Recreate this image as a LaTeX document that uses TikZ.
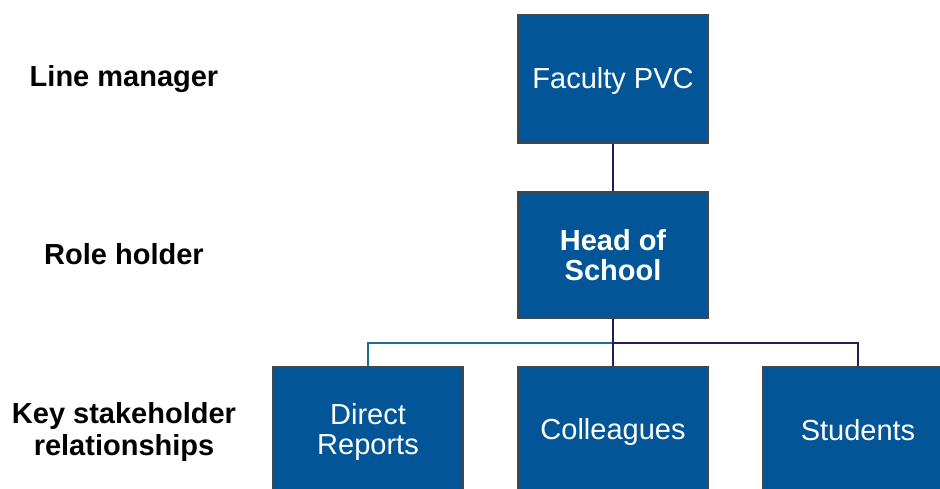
\documentclass[tikz,border=0pt]{standalone}
\usepackage{fontspec}
\setmainfont{Liberation Sans}
\definecolor{boxblue}{RGB}{2,86,152}
\definecolor{boxedge}{RGB}{70,70,70}
\definecolor{navyline}{RGB}{32,30,92}
\definecolor{tealline}{RGB}{28,108,140}
% a strut that centres the capitals of each line on the node centre
\newcommand{\capstrut}{\rule[-4.2pt]{0pt}{29.2pt}}
\tikzset{
  rolebox/.style={rectangle, draw=boxedge, line width=2.5pt, fill=boxblue,
    minimum width=190pt, minimum height=126pt, inner sep=0pt,
    text=white, align=center, font=\fontsize{29}{30}\selectfont},
  levellabel/.style={align=center, text=black, inner sep=0pt,
    font=\fontsize{29}{29}\selectfont\bfseries},
  navylink/.style={draw=navyline, line width=2.5pt},
  teallink/.style={draw=tealline, line width=2.5pt}
}
\begin{document}
\begin{tikzpicture}[x=1pt,y=-1pt]
  \useasboundingbox (0,0) rectangle (940,488);
  \clip (0,0) rectangle (940,488);

  % level labels on the left
  \node[levellabel] (lm) at (124,77) {\capstrut Line manager};
  \node[levellabel] (rh) at (124,254) {\capstrut Role holder};
  \node[levellabel] (ks) at (124,430) {\capstrut Key stakeholder\\\capstrut relationships};

  % boxes
  \node[rolebox, minimum height=128pt] (fac) at (613,79) {\capstrut Faculty PVC};
  \node[rolebox, font=\fontsize{29}{30}\selectfont\bfseries] (hos) at (613,255)
    {\capstrut Head of\\\capstrut School};
  \node[rolebox] (dr) at (368,430) {\capstrut Direct\\\capstrut Reports};
  \node[rolebox] (col) at (613,430) {\capstrut Colleagues};
  \node[rolebox] (stu) at (858,430) {\capstrut Students};

  % connectors
  \coordinate (bus) at (613,343);
  \draw[navylink] (fac.south) -- (hos.north);
  \draw[teallink] (bus) -| (dr.north);
  \draw[navylink] (bus) -| (stu.north);
  \draw[navylink] (hos.south) -- (col.north);
\end{tikzpicture}
\end{document}
